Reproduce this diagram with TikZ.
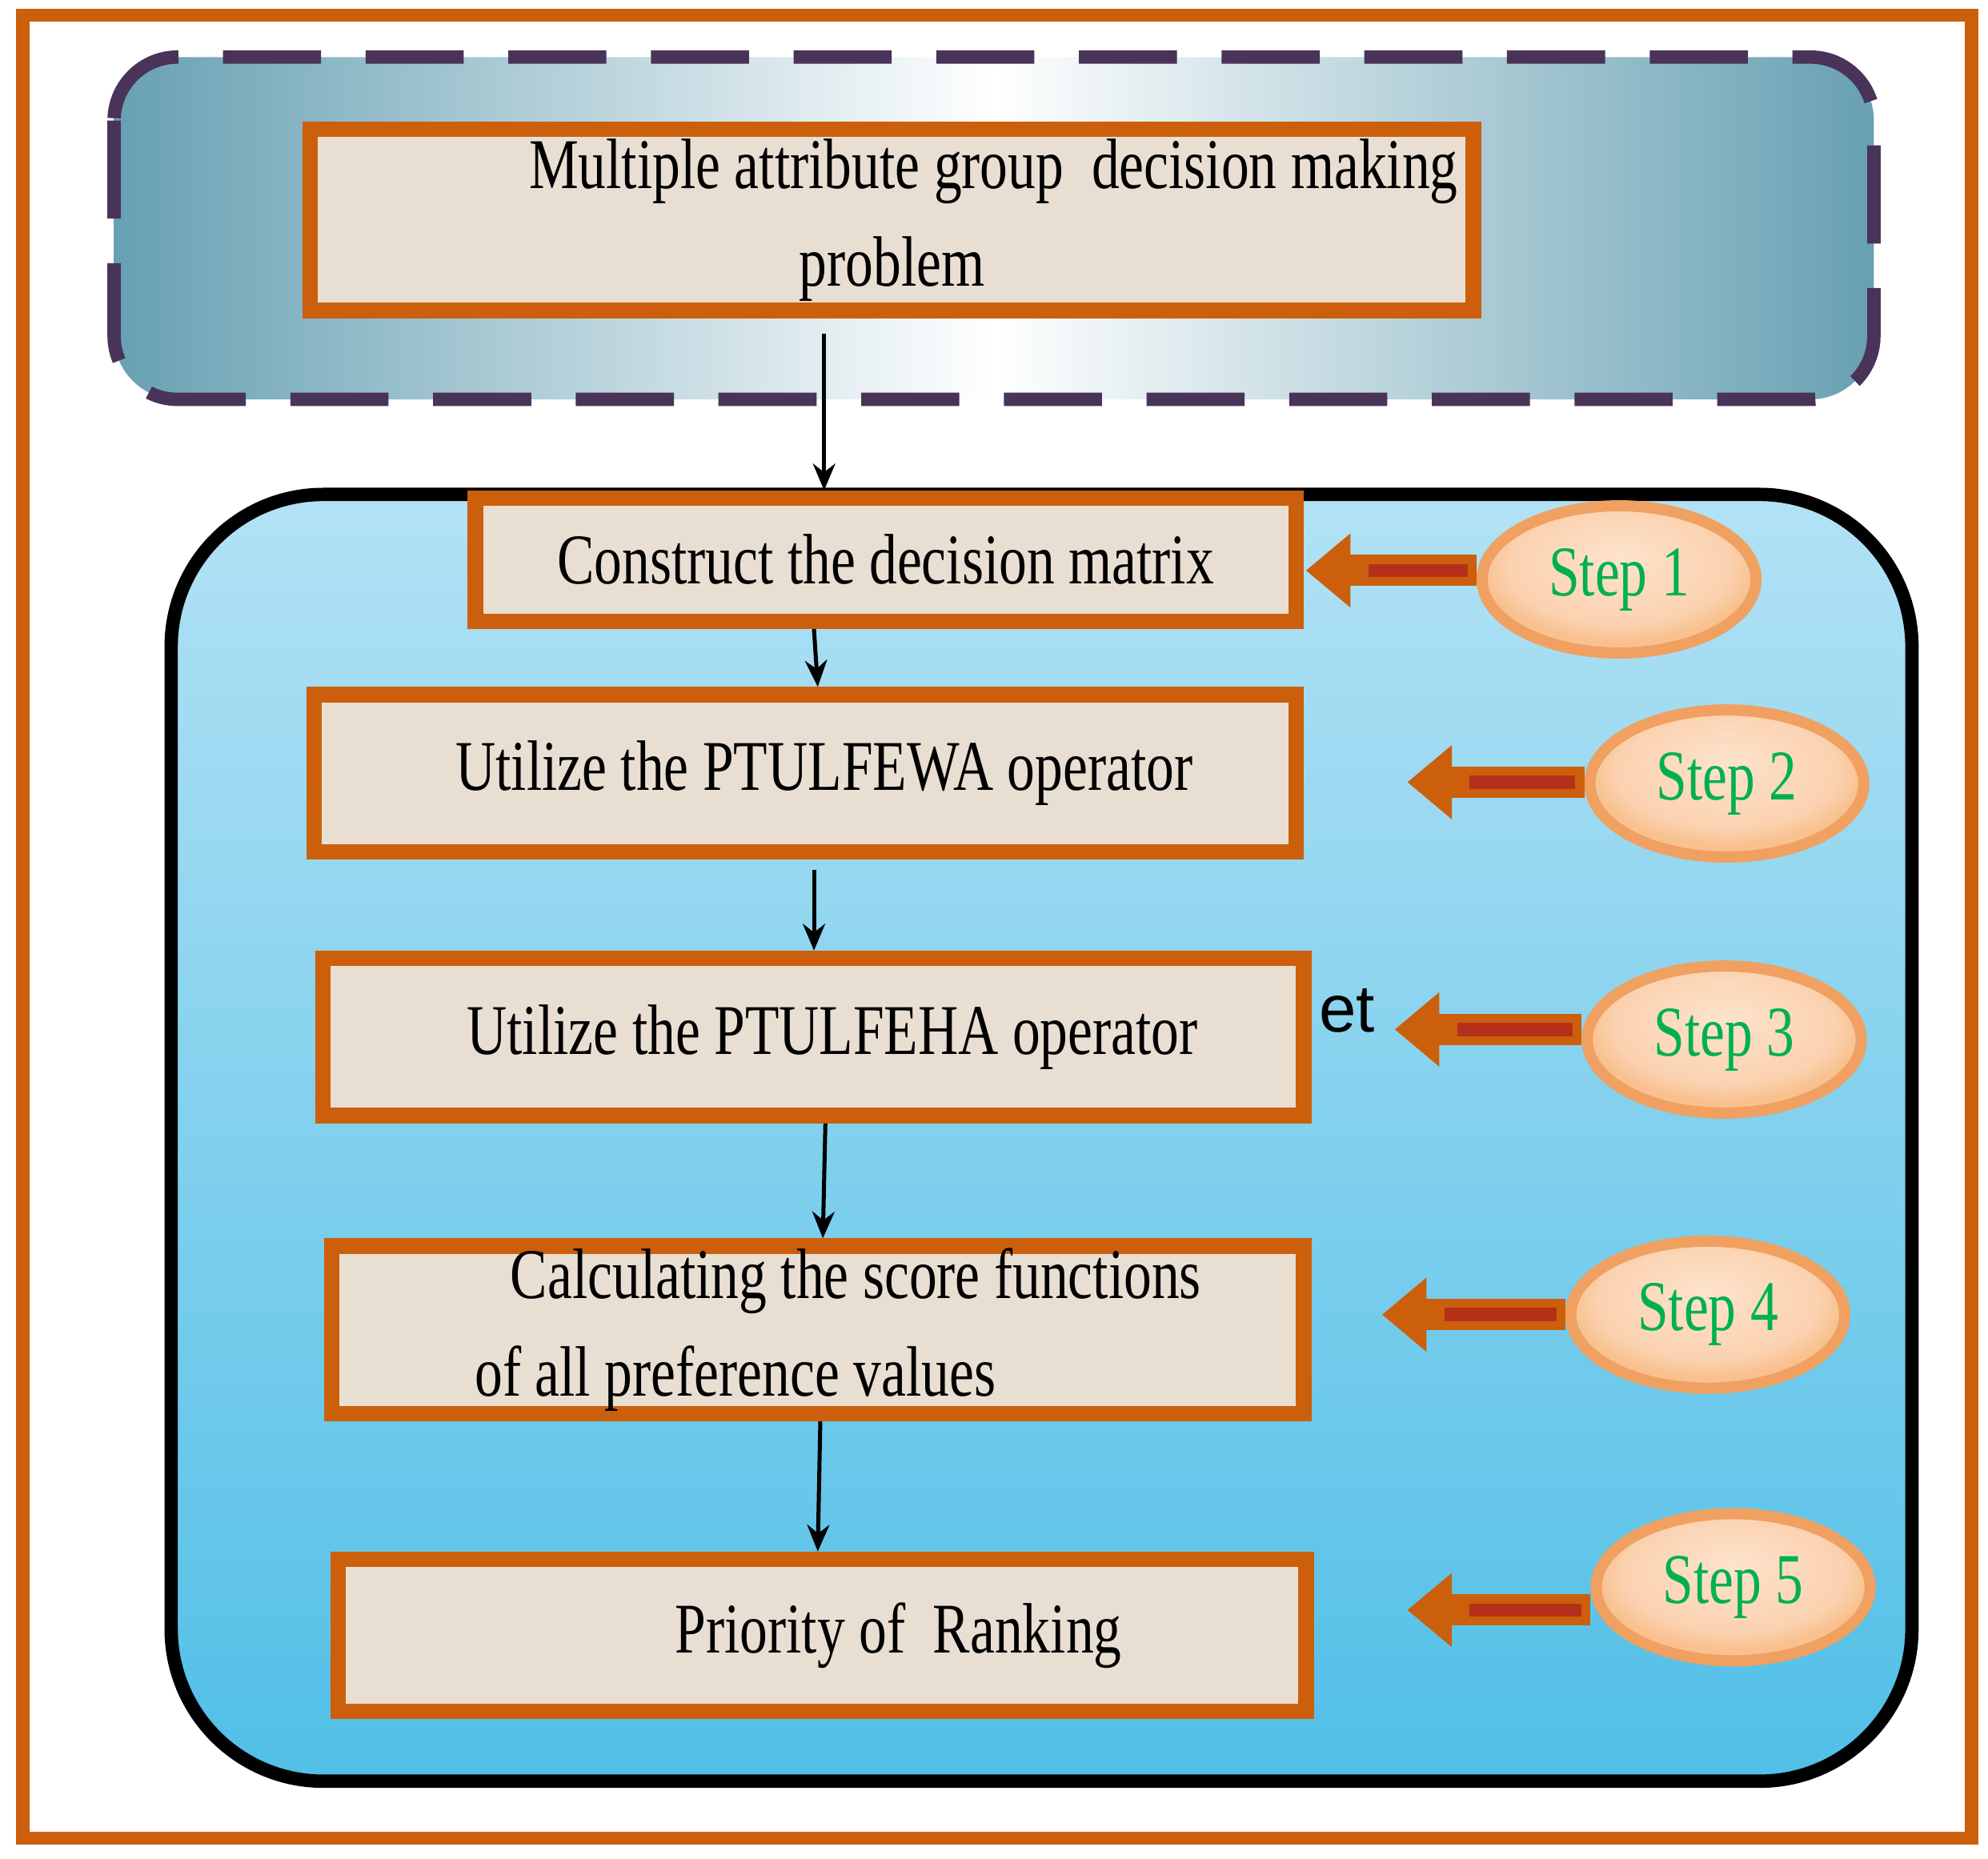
\documentclass[tikz,border=0pt]{standalone}
\usepackage{fontspec}
\setmainfont{Liberation Serif}[FakeStretch=0.78]
\newfontfamily\sansf{Liberation Sans}
\usetikzlibrary{shapes.geometric,arrows.meta}
\definecolor{frameor}{HTML}{CC5F0C}
\definecolor{boxpur}{HTML}{4A3358}
\definecolor{boxbg}{HTML}{E8DFD2}
\definecolor{tealc}{HTML}{00607F}
\definecolor{dashp}{HTML}{4A3358}
\definecolor{stepg}{HTML}{00B050}
\definecolor{peach}{HTML}{FCD5B5}
\definecolor{arrred}{HTML}{B5301A}
\definecolor{blA}{HTML}{82CDEC}
\definecolor{blB}{HTML}{4BBDE6}
\definecolor{blC}{HTML}{E3F3FB}
\definecolor{peA}{HTML}{FDE3CC}
\definecolor{peB}{HTML}{FBD2B0}
\definecolor{peC}{HTML}{F8C18F}
\definecolor{ellbd}{HTML}{F0A060}
\pgfdeclarehorizontalshading{boxsh}{100bp}{color(0bp)=(boxpur); color(16bp)=(boxbg); color(84bp)=(boxbg); color(100bp)=(boxpur)}
\pgfdeclarehorizontalshading{tealsh}{100bp}{color(0bp)=(tealc); color(8bp)=(tealc); color(50bp)=(white); color(92bp)=(tealc); color(100bp)=(tealc)}
\pgfdeclareverticalshading{bluesh}{100bp}{color(0bp)=(blA); color(22bp)=(blB); color(100bp)=(blC)}
\pgfdeclareradialshading{peachsh}{\pgfpoint{0bp}{8bp}}{color(0bp)=(peA); color(20bp)=(peB); color(25bp)=(peC); color(50bp)=(peC)}
\tikzset{
 stepbox/.style={draw=frameor,line width=3.5pt,shading=boxsh,minimum height=#1,inner sep=0pt,font=\fontsize{16}{22}\selectfont,align=center},
 stepell/.style={ellipse,draw=ellbd,line width=2.5pt,shading=peachsh,minimum width=2.16cm,minimum height=1.16cm,text=stepg,font=\fontsize{16}{20}\selectfont},
 flow/.style={-{Stealth[length=6pt,width=5pt]},line width=0.9pt},
 fat/.style={line width=7pt,draw=frameor,-{Triangle[length=10pt,width=16pt]}},
 fatin/.style={line width=3pt,draw=arrred},
}
\begin{document}
\begin{tikzpicture}[x=0.01cm,y=-0.01cm]
\useasboundingbox (0,0) rectangle (1568,1466);
\draw[frameor,line width=3pt] (18,12) rectangle (1555,1450);
\shade[shading=tealsh,rounded corners=0.5cm] (90,45) rectangle (1478,315);
\draw[dashp,line width=3pt,dash pattern=on 22pt off 10pt,rounded corners=0.5cm] (90,45) rectangle (1478,315);
\shade[shading=bluesh,rounded corners=1.2cm] (135,390) rectangle (1508,1405);
\draw[black,line width=3pt,rounded corners=1.2cm] (135,390) rectangle (1508,1405);
\node[font=\sansf\fontsize{15}{18}\selectfont,anchor=west] (et) at (1028,797) {et};
\node[stepbox=1.43cm,minimum width=9.17cm] (b1) at (703.5,173.5) {\hspace*{1.6cm}Multiple attribute group\ \ decision making\\problem};
\node[stepbox=0.97cm,minimum width=6.47cm] (b2) at (698.5,441.5) {Construct the decision matrix};
\node[stepbox=1.24cm,minimum width=7.74cm] (b3) at (635,610) {\hspace*{0.3cm}Utilize the PTULFEWA operator};
\node[stepbox=1.24cm,minimum width=7.73cm] (b4) at (641.5,818) {\hspace*{0.3cm}Utilize the PTULFEHA operator};
\node[stepbox=1.32cm,minimum width=7.66cm] (b5) at (645,1049) {\hspace*{0.6cm}Calculating the score functions\\of all preference values\hspace*{1.3cm}};
\node[stepbox=1.2cm,minimum width=7.63cm] (b6) at (648.5,1290) {\hspace*{1.2cm}Priority of\ \ Ranking};
\draw[flow] (b1.south -| 650,0) ++(0,12) coordinate (a1) -- (b2.north -| 650,0);
\draw[flow] (b2.south -| 642,0) -- (b3.north -| 645,0);
\draw[flow] (b3.south -| 642,0) ++(0,8) -- (b4.north -| 642,0);
\draw[flow] (b4.south -| 651,0) -- (b5.north -| 649,0);
\draw[flow] (b5.south -| 647,0) -- (b6.north -| 645,0);
\node[stepell] (s1) at (1277,457) {Step 1};
\node[stepell] (s2) at (1362,618) {Step 2};
\node[stepell] (s3) at (1360,820) {Step 3};
\node[stepell] (s4) at (1347,1037) {Step 4};
\node[stepell] (s5) at (1367,1252) {Step 5};
\coordinate (t1) at (1030,450);
\coordinate (t2) at (1110,617);
\coordinate (t3) at (1100,812);
\coordinate (t4) at (1090,1037);
\coordinate (t5) at (1110,1270);
\foreach \i/\y in {1/450,2/617,3/812,4/1037,5/1270}{
 \draw[fat] (s\i.west |- 0,\y) -- (t\i);
 \draw[fatin] ([xshift=-2pt]s\i.west |- 0,\y) -- ([xshift=14pt]t\i);
}
\end{tikzpicture}
\end{document}
